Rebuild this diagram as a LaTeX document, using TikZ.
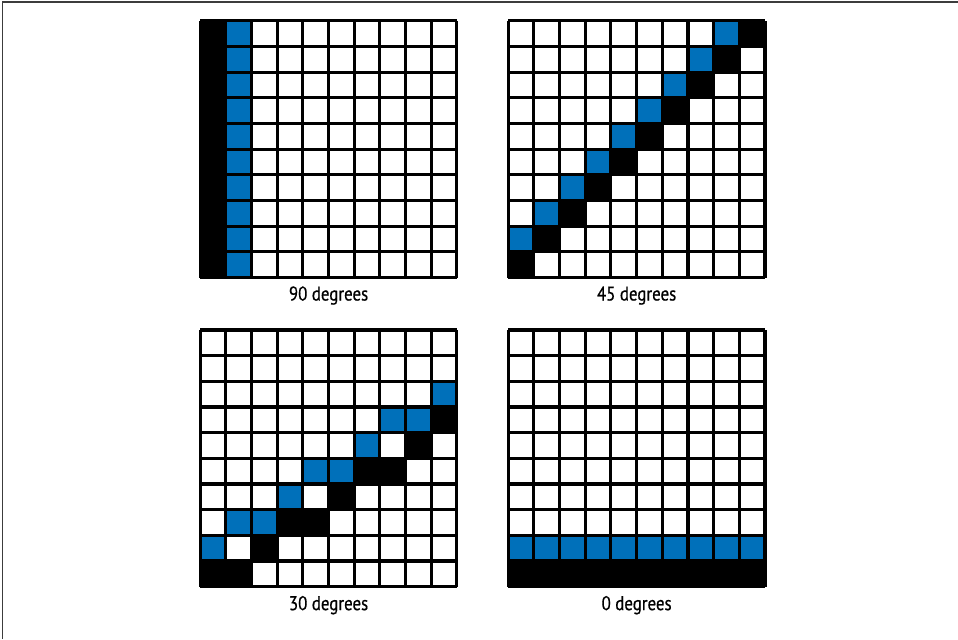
\documentclass[tikz,border=0pt]{standalone}
\usepackage{fontspec}
\setmainfont{PT Sans}
\newfontfamily\capfont[FakeStretch=0.85, FakeBold=0.6]{PT Sans}
\usepackage{xcolor}
\usepackage{tikz}
\definecolor{cellblue}{RGB}{0,112,186}
\definecolor{framegray}{RGB}{60,60,60}

\begin{document}
\begin{tikzpicture}[
    bluecell/.style={fill=cellblue},
    blackcell/.style={fill=black},
    gridline/.style={draw=black, line width=1.7pt},
    caption/.style={font=\capfont\fontsize{11}{13}\selectfont}
]
\useasboundingbox (0,0) rectangle (18.66,12.447);
\draw[framegray, line width=0.7pt] (0.05,0) -- (0.05,12.41) -- (18.66,12.41);

% 90 degrees
\begin{scope}[shift={(3.9,7.04)}, scale=0.5]
\foreach \r in {0,...,9} {
  \fill[blackcell] (0,\r) rectangle ++(1,1);
  \fill[bluecell] (1,\r) rectangle ++(1,1);
}
\draw[gridline] (0,0) grid (10,10);
\node[caption] (deg90) at (5,-0.7) {90 degrees};
\end{scope}

% 45 degrees
\begin{scope}[shift={(9.9,7.04)}, scale=0.5]
\foreach \i in {0,...,9}
  \fill[blackcell] (\i,\i) rectangle ++(1,1);
\foreach \i in {0,...,8}
  \fill[bluecell] (\i,\i+1) rectangle ++(1,1);
\draw[gridline] (0,0) grid (10,10);
\node[caption] (deg45) at (5,-0.7) {45 degrees};
\end{scope}

% 30 degrees
\begin{scope}[shift={(3.9,1.02)}, scale=0.5]
\foreach \c/\r in {0/0,1/0,2/1,3/2,4/2,5/3,6/4,7/4,8/5,9/6}
  \fill[blackcell] (\c,\r) rectangle ++(1,1);
\foreach \c/\r in {0/1,1/2,2/2,3/3,4/4,5/4,6/5,7/6,8/6,9/7}
  \fill[bluecell] (\c,\r) rectangle ++(1,1);
\draw[gridline] (0,0) grid (10,10);
\node[caption] (deg30) at (5,-0.72) {30 degrees};
\end{scope}

% 0 degrees
\begin{scope}[shift={(9.9,1.02)}, scale=0.5]
\foreach \c in {0,...,9} {
  \fill[blackcell] (\c,0) rectangle ++(1,1);
  \fill[bluecell] (\c,1) rectangle ++(1,1);
}
\draw[gridline] (0,0) grid (10,10);
\node[caption] (deg0) at (5,-0.72) {0 degrees};
\end{scope}
\end{tikzpicture}
\end{document}
